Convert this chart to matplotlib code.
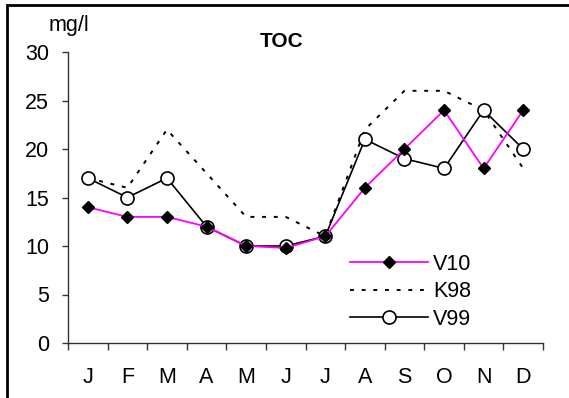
import matplotlib
matplotlib.use("Agg")
import matplotlib.pyplot as plt
from matplotlib.lines import Line2D
from matplotlib.transforms import IdentityTransform
import numpy as np

plt.rcParams['font.family'] = ['Liberation Sans', 'DejaVu Sans']

months = ['J', 'F', 'M', 'A', 'M', 'J', 'J', 'A', 'S', 'O', 'N', 'D']
v10 = [14, 13, 13, 12, 10, 9.8, 11, 16, 20, 24, 18, 24]
k98 = [17, 16, 22, 17.5, 13, 13, 11, 22, 26, 26, 24, 18]
v99 = [17, 15, 17, 12, 10, 10, 11, 21, 19, 18, 24, 20]
yticks = [0, 5, 10, 15, 20, 25, 30]

W, H = 569, 398
fig = plt.figure(figsize=(W / 100, H / 100), dpi=100)

def fx(px):
    return px / W

def fy(py):
    return 1 - py / H

left, right, top, bottom = 68, 543, 52, 343
ax = fig.add_axes([fx(left), fy(bottom), fx(right) - fx(left), fy(top) - fy(bottom)])

x = np.arange(len(months)) + 0.5

ax.plot(x, k98, color='black', lw=1.4, ls=(0, (2, 4)), label='K98', zorder=2)
ax.plot(x, v99, color='black', lw=1.2, marker='o', ms=9.4, mfc='white',
        mec='black', mew=1.2, label='V99', zorder=3)
ax.plot(x, v10, color='#FF00FF', lw=1.3, marker='D', ms=6.5, mfc='black',
        mec='black', label='V10', zorder=4)

ax.set_xlim(0, 12)
ax.set_ylim(0, 30)

for side in ['top', 'right']:
    ax.spines[side].set_visible(False)
for side in ['left', 'bottom']:
    ax.spines[side].set_color('#333333')
    ax.spines[side].set_linewidth(1.0)

fs = 15.5
ax.set_yticks(yticks)
ax.set_yticklabels([str(v) for v in yticks])
ax.tick_params(axis='y', direction='out', length=4.5, width=1.0, color='#333333',
               labelsize=fs, pad=9)

ax.set_xticks(np.arange(13))
ax.set_xticklabels([])
ax.set_xticks(x, minor=True)
ax.set_xticklabels(months, minor=True)
ax.tick_params(axis='x', which='major', direction='out', length=5, width=1.0,
               color='#333333')
ax.tick_params(axis='x', which='minor', length=0, labelsize=fs, pad=17)

fig.text(fx(69), fy(31), 'mg/l', ha='center', va='baseline', fontsize=fs)
fig.text(fx(282), fy(47), 'TOC', ha='center', va='baseline', fontsize=15,
         fontweight='bold')

handles, labels = ax.get_legend_handles_labels()
order = [2, 0, 1]
leg = ax.legend([handles[i] for i in order], [labels[i] for i in order],
                loc='upper left', bbox_to_anchor=(fx(350), fy(254)),
                bbox_transform=fig.transFigure, frameon=False, fontsize=fs,
                numpoints=1, handlelength=3.63, handletextpad=0.23,
                labelspacing=0.3, borderpad=0, borderaxespad=0)

# frame along the top and left edges of the figure, in pixel coordinates
frame = Line2D([W + 20, 6.5, 6.5], [H - 4.5, H - 4.5, -20],
               transform=IdentityTransform(), color='black', lw=2.0,
               solid_joinstyle='miter', clip_on=False)
fig.add_artist(frame)

fig.savefig('out.png', dpi=100)
